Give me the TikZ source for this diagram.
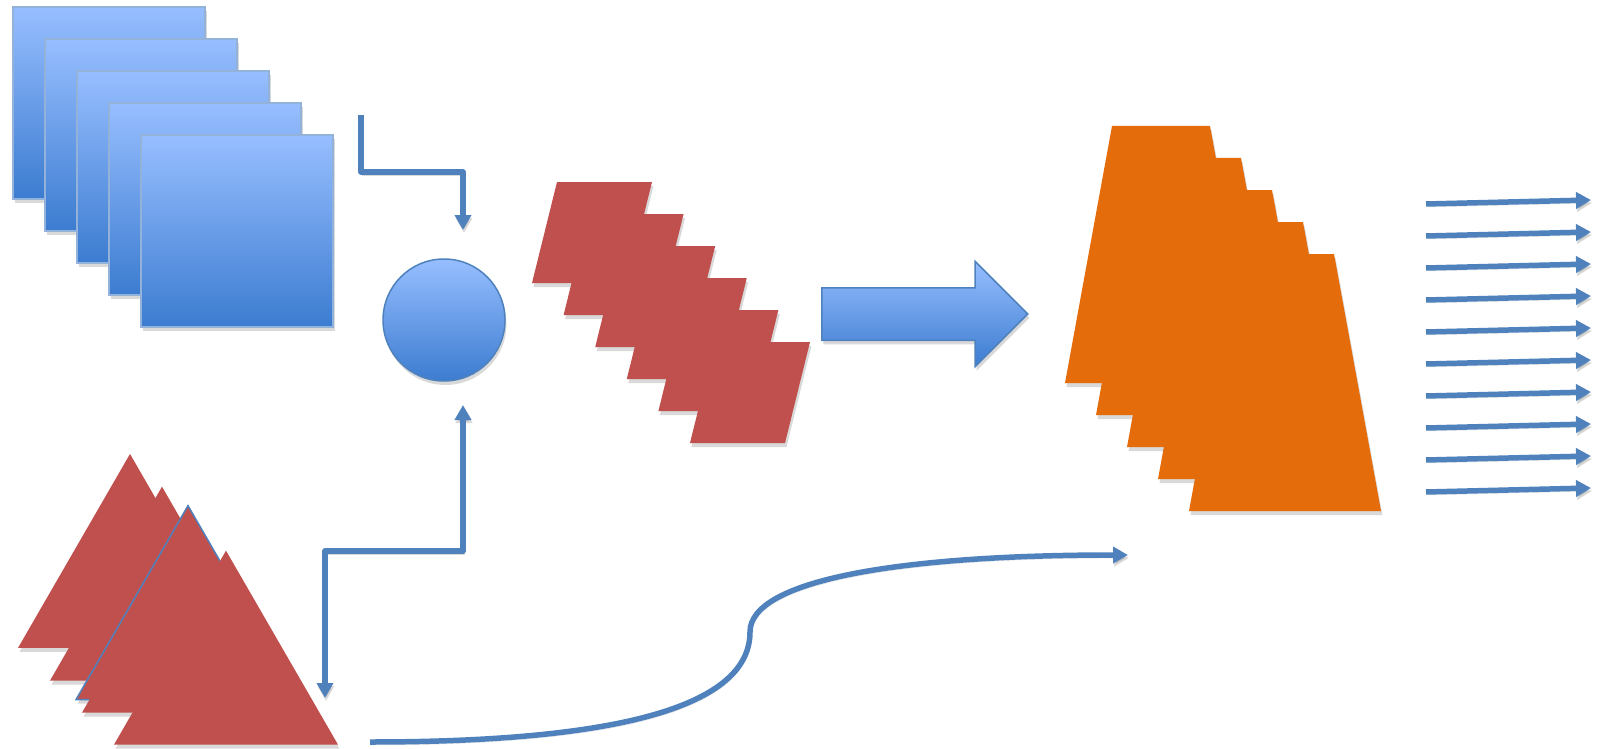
\documentclass[tikz,border=0pt]{standalone}
\usepackage[svgnames]{xcolor}
\usetikzlibrary{arrows.meta,shadows,shapes.geometric,shapes.arrows}
\definecolor{frametop}{HTML}{97BEFF}
\definecolor{framebot}{HTML}{3C7CD0}
\definecolor{frameline}{HTML}{92B2DA}
\definecolor{wireblue}{HTML}{4F81BD}
\definecolor{tilered}{HTML}{C0504D}
\definecolor{layerorange}{HTML}{E46C0A}

\begin{document}
\begin{tikzpicture}[
  x=1pt,y=-1pt,
  >={Triangle[length=15pt,width=16pt]},
  wire/.style={line width=5.5pt,draw=wireblue,line join=round,
    preaction={draw=black,opacity=.15,transform canvas={shift={(1pt,-3pt)}}}},
  component/.style={inner sep=0pt,drop shadow={opacity=.3,shadow xshift=1.5pt,shadow yshift=-4pt}},
  frame/.style={component,rectangle,draw=frameline,line width=1.5pt,top color=frametop,bottom color=framebot,minimum size=192pt},
  merge/.style={component,circle,draw=wireblue,line width=1.5pt,top color=frametop,bottom color=framebot,minimum size=122pt},
  tile/.style={component,fill=tilered},
  peak/.style={component,regular polygon,regular polygon sides=3,fill=tilered,minimum size=258.7pt},
  layer/.style={component,fill=layerorange},
  pass/.style={component,single arrow,inner ysep=25.5pt,single arrow head extend=26.5pt,single arrow tip angle=90,draw=wireblue,line width=1.5pt,top color=frametop,bottom color=framebot,minimum height=206pt,minimum width=104pt}
]
\useasboundingbox (0,0) rectangle (1604,749);

% input frames
\foreach \i in {0,...,4}
  \node[frame] (frame\i) at (109+32*\i,103+32*\i) {};

% triangles, one with a blue rim
\node[peak] (peak0) at (130,583.3) {};
\node[peak] (peak1) at (162,616) {};
\node[peak,draw=wireblue,line width=1.5pt] (peakrim) at (188,635) {};
\node[peak] (peak2) at (194,648) {};
\node[peak] (peak3) at (226,680) {};

\node[merge] (merge) at (444,320) {};

% tiles
\foreach \i in {0,...,5}
  \path[tile,shift={(31.6*\i,32*\i)}] (532,283) -- (557,182) -- (652,182) -- (627,283) -- cycle;

\node[pass,anchor=west] (pass) at (821,314) {};

% output layers
\foreach \i in {0,...,4}
  \path[layer,shift={(31*\i,32*\i)}] (1065,383) -- (1112,126) -- (1210,126) -- (1257,383) -- cycle;

% connectors
\coordinate (framesout) at (361,115);
\coordinate (framesbend) at (463,172);
\coordinate (mergein) at (463,230);
\coordinate (mergeout) at (463,405);
\coordinate (peakbend) at (463,551);
\coordinate (peakin) at (325,698);
\coordinate (curvestart) at (370,742);
\coordinate (curveend) at (1128,555);
\draw[wire,->] (framesout) |- (framesbend) -- (mergein);
\draw[wire,<->] (mergeout) -- (peakbend) -| (peakin);
\draw[wire,->] (curvestart) .. controls (640,742) and (750,700) .. (750,632)
  .. controls (750,580) and (900,555) .. (curveend);

\foreach \k in {0,...,9} {
  \coordinate (rayin\k) at (1426,204+32*\k);
  \coordinate (rayout\k) at (1591,200+32*\k);
  \draw[wire,->] (rayin\k) -- (rayout\k);
}
\end{tikzpicture}
\end{document}
